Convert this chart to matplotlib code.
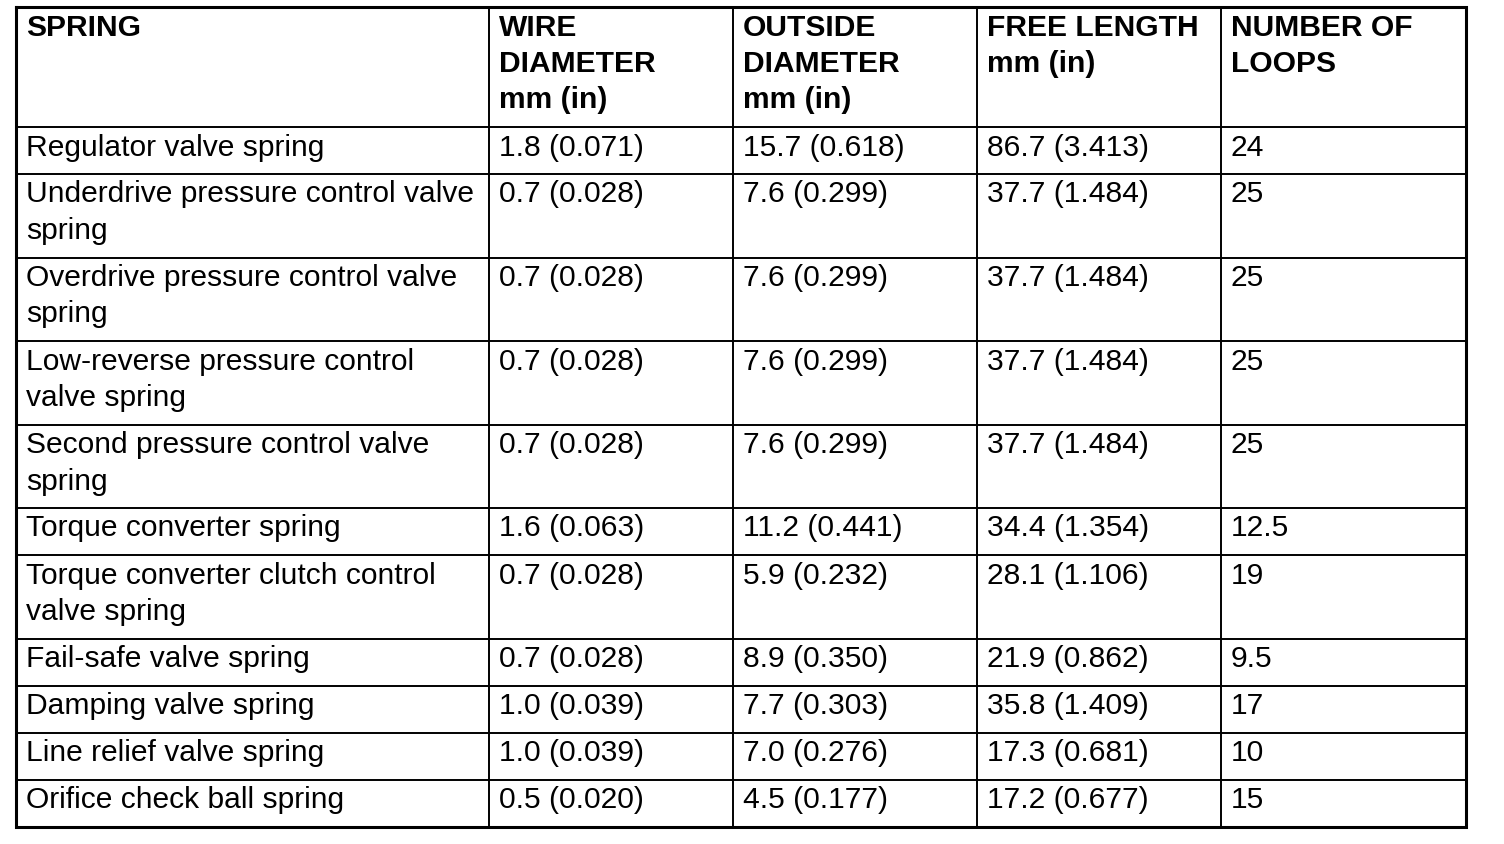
import matplotlib
matplotlib.use("Agg")
import matplotlib.pyplot as plt

# --- Table content ---
HEADERS = ["SPRING", "WIRE\nDIAMETER\nmm (in)", "OUTSIDE\nDIAMETER\nmm (in)",
           "FREE LENGTH\nmm (in)", "NUMBER OF\nLOOPS"]

SPRINGS = [
    "Regulator valve spring",
    "Underdrive pressure control valve\nspring",
    "Overdrive pressure control valve\nspring",
    "Low-reverse pressure control\nvalve spring",
    "Second pressure control valve\nspring",
    "Torque converter spring",
    "Torque converter clutch control\nvalve spring",
    "Fail-safe valve spring",
    "Damping valve spring",
    "Line relief valve spring",
    "Orifice check ball spring",
]
WIRE_DIAMETER = ["1.8 (0.071)", "0.7 (0.028)", "0.7 (0.028)", "0.7 (0.028)", "0.7 (0.028)",
                 "1.6 (0.063)", "0.7 (0.028)", "0.7 (0.028)", "1.0 (0.039)", "1.0 (0.039)",
                 "0.5 (0.020)"]
OUTSIDE_DIAMETER = ["15.7 (0.618)", "7.6 (0.299)", "7.6 (0.299)", "7.6 (0.299)", "7.6 (0.299)",
                    "11.2 (0.441)", "5.9 (0.232)", "8.9 (0.350)", "7.7 (0.303)", "7.0 (0.276)",
                    "4.5 (0.177)"]
FREE_LENGTH = ["86.7 (3.413)", "37.7 (1.484)", "37.7 (1.484)", "37.7 (1.484)", "37.7 (1.484)",
               "34.4 (1.354)", "28.1 (1.106)", "21.9 (0.862)", "35.8 (1.409)", "17.3 (0.681)",
               "17.2 (0.677)"]
LOOPS = ["24", "25", "25", "25", "25", "12.5", "19", "9.5", "17", "10", "15"]

# --- Layout (pixel units) ---
W, H = 1504, 844
COL_EDGES = [16, 489, 733, 977, 1221, 1466]
TOP = 7
LINE_H = 36.5
PAD_H = 10.5
FIRST_BASE = 28.5
TEXT_DX = 10
FONT_PX = 30.0
FONT_PT = FONT_PX * 72 / 100

plt.rcParams['font.family'] = ['Liberation Sans', 'DejaVu Sans']

fig = plt.figure(figsize=(W / 100, H / 100), dpi=100)
ax = fig.add_axes([0, 0, 1, 1])
ax.set_xlim(0, W)
ax.set_ylim(H, 0)
ax.axis("off")

rows = [HEADERS] + [list(r) for r in zip(SPRINGS, WIRE_DIAMETER, OUTSIDE_DIAMETER, FREE_LENGTH, LOOPS)]

y = TOP
row_edges = [y]
for i, row in enumerate(rows):
    n = max(len(c.split("\n")) for c in row)
    for j, cell in enumerate(row):
        for k, line in enumerate(cell.split("\n")):
            ax.text(COL_EDGES[j] + TEXT_DX, y + FIRST_BASE + k * LINE_H, line,
                    fontsize=FONT_PT, va="baseline", ha="left", color="black",
                    fontweight="bold" if i == 0 else "normal")
    y += PAD_H + LINE_H * n
    row_edges.append(y)

# grid lines
for ry in row_edges[1:-1]:
    ax.plot([COL_EDGES[0], COL_EDGES[-1]], [ry, ry], color="black", lw=1.4, solid_capstyle="butt")
for cx in COL_EDGES[1:-1]:
    ax.plot([cx, cx], [row_edges[0], row_edges[-1]], color="black", lw=1.4, solid_capstyle="butt")

# outer border
x0, x1 = COL_EDGES[0], COL_EDGES[-1]
y0, y1 = row_edges[0], row_edges[-1]
ax.plot([x0, x1, x1, x0, x0], [y0, y0, y1, y1, y0], color="black", lw=2.2,
        solid_joinstyle="miter")

fig.savefig("out.png", dpi=100, facecolor="white")
